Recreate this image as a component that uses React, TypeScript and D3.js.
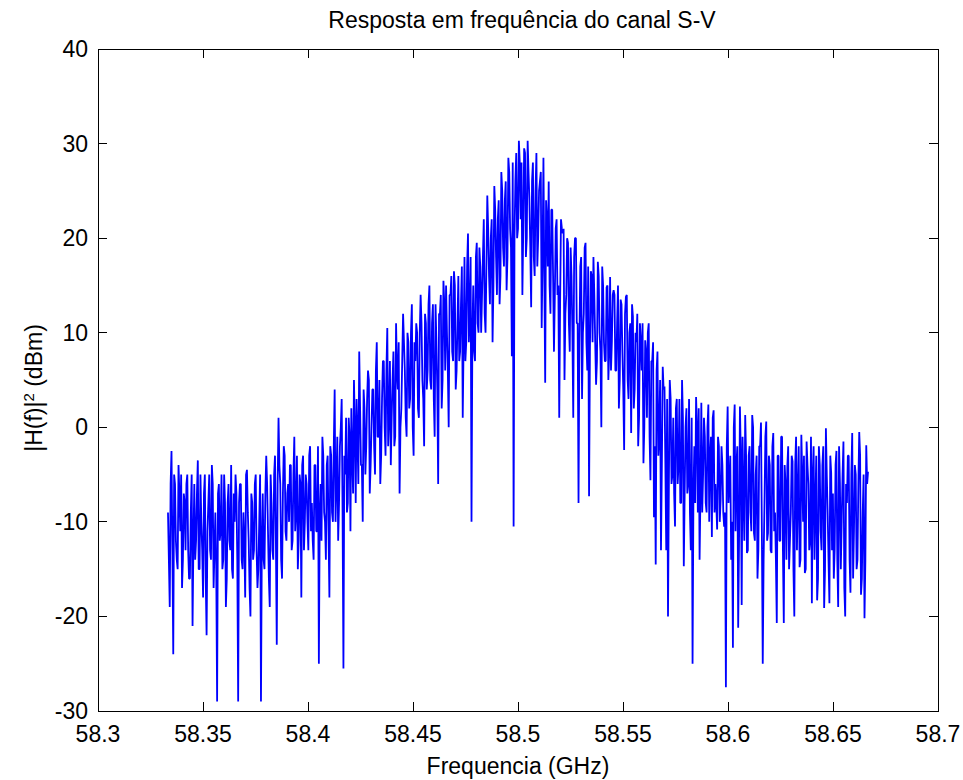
import React from "react";
import * as d3 from "d3";

// Frequency grid (GHz): evenly sampled band around 58.5 GHz
const fStart = 58.33333;
const fEnd = 58.66667;

// |H(f)|^2 in dBm, read left to right from the picture (samples at even steps)
const seg1 = [
  -9, -19, -2.5, -24, -6, -14, -4, -11, -17, -7,
  -13, -5, -16, -9, -21, -6, -12, -3.5, -15, -10,
  -18, -5, -22, -8, -13, -4, -17, -9, -29, -6,
  -11, -15, -5, -19, -8, -12, -4, -16, -10, -7,
  -29, -6, -14, -9, -18, -4.5, -12, -20, -8, -13,
  -5, -17, -10, -29, -7, -15, -3, -11, -19,
];
const seg2 = [
  -8, -14, -3, -23, 1, -6, -16, -2, -11, -7,
  -10, -4, -12, -1, -9, -15, -5, -18, -3, -10,
  -6, -13, -2, -8, -14, -4, -11, -25, -6, -1,
  -9, -14, -3, -18,
];
const seg3 = [
  -3, -10, 4, -6, -12, -2, 3, -25.5, -5, -9,
  1, -11, -3, 5, -8, -1, 8, -4, -10, 2,
  -2, 6, -7, 0, 4, -5, 9, -1, -6, 3,
  7, -3, 10.5, 1, -4, 5, -2, 11, 4, -7,
  2, 12, 6, -1, 9, 3, 13, -3, 7, 10,
  1, 14, 5, -2, 11, 6, 15,
];
const seg4 = [
  4, 13, -1, 9, -6, 12, 2, 15.5, 6, 10,
  0, 14, 8, 16.5, 4, 11, 7, 13, 1, 18,
  9, 20.5, 12, -10, 15, 7, 19.5, 10, 17,
];
const seg5 = [
  14, 22, 10, 24.5, 16, 20, 9, 25.5, 18, 22,
  13, 27, 19, 24, 14.5, 28.5, 21, 7.5, -10.5, 26,
  20, 30.3,
];
const seg6 = [
  22, 14, 29.5, 18, 30.3, 24, 12.7, 28, 16, 29,
  20, 26, 10.5, 28.5, 4.7, 22, 26, 12, 23, 8,
  21, 14, 1, 22,
];
const seg7 = [
  20.5, 5, 14, 19.5, 8, 16, 1, 20, 11, -8,
  17, 3, 12, 19.5, 6, -7.3, 16.5, 9, 14, 4.5,
  17.5, 10, 0, 15, 7, 14.8, 5, 15.9, 9,
];
const seg8 = [
  14.5, 6, 11, 2, 13.5, 8, -2.4, 13.8, 5, 10,
  -0.6, 11.7, 4, 9, -2, 11, 6, -3.8, 9.2, 1,
  11, -5.6, 7, -9.5, -14.5, 8, -1, -13, 6.4,
];
const seg9 = [
  4.3, -13, -20, 5, -6, 1, -10.5, 3, -4, -8,
  5, -14.7, 0, -7, 3, -13, -25, -2, 3.2, -9,
  -14, 2.6, -5, -1, -9, 2.4, -3, -11.6, 1.8, -6,
  -10.8, -2, -7.7, -4,
];
const seg10 = [
  -10.5, -27.5, 2.2, -6, -14, -23.3, 2.4, -4, -21.2, 2.2,
  -18.8, -7, 1.3, -13.3, -3, -9, 1.3, -11.2, -5, -16,
  -2, 0.5, -25, -8, 0.6, -11.2, -4, -13.3, -0.6, -9,
  -20.7, -3, -12, -1, -20.7, -6, -4.2, -15, -9, -3.6,
  -20, -1, -7, -14.8, -0.8, -10, -15.4, -1.5, -6, -12,
  -18.6, -2, -8, -18.3, -2, -11, -4, -19.1, -0.1, -9,
  -18.6, -4.8, -7, -13, -2.5, -19, -6, -10, -1.5, -20,
  -8, -3, -17.5, -0.6, -11, -5, -14, -0.5, -17.7, -9,
  -20.2, -1.9, -4.7,
];

// In-between samples (half a step after each sample above)
const seg1b = [
  -14, -6, -13, -5, -12, -15, -7, -5, -14, -8,
  -6, -13, -16, -5, -12, -14, -7, -15, -5, -13,
  -7, -16, -11, -5, -14, -6, -13, -15, -7, -12,
  -5, -14, -8, -16, -6, -13, -15, -7, -5, -14,
  -8, -6, -15, -12, -5, -9, -17, -7, -14, -6,
  -13, -15, -5, -12, -14, -7, -6, -16, -5,
];
const seg2b = [
  -13, -5, -12, -6, -4, -14, -7, -3, -12, -6,
  -4, -13, -5, -11, -3, -12, -6, -4, -13, -5,
  -10, -3, -11, -12, -4, -11, -2, -9, -12, -3,
  -10, -4, -11, -2,
];
const seg3b = [
  -9, -2, -10, -1, -8, 0, -9, -3, 1, -8,
  -1, 2, -7, 0, 3, -6, 2, -4, 4, -5,
  3, 5, -4, 4, -2, 6, -1, 5, -3, 7,
  0, 6, -2, 7, 1, 8, -1, 6, 9, 0,
  7, 9, 1, 10, 2, 10, 0, 9, 11, 2,
  10, 11, 3, 12, 4, 13, 5,
];
const seg4b = [
  11, 3, 13, 4, 12, 14, 5, 13, 15, 6,
  14, 16, 7, 15, 6, 16, 8, 17, 9, 7,
  17, 9, 18, 10, 8, 18, 11, 19, 10,
];
const seg5b = [
  18, 12, 17, 21, 13, 22, 15, 23, 14, 24,
  16, 25, 17, 26, 18, 27, 19, 28, 20, 29,
  21, 28,
];
const seg6b = [
  28, 21, 29, 20, 27, 19, 26, 18, 25, 17,
  25, 27, 18, 16, 24, 17, 15, 23, 16, 14,
  22, 15, 13, 21,
];
const seg7b = [
  21, 12, 20, 11, 19, 10, 18, 20, 11, 9,
  18, 10, 19, 9, 17, 8, 16, 18, 9, 7,
  16, 8, 17, 9, 7, 15, 8, 6, 14,
];
const seg8b = [
  14, 6, 15, 5, 13, 4, 12, 14, 3, 11,
  13, 2, 10, 12, 1, 9, 11, 0, 8, 10,
  -1, 7, 9, -2, 6, -3, 5, -4, 4,
];
const seg9b = [
  -4, 3, -6, 3, -5, -7, 2, -6, 3, -8,
  1, -7, 2, -6, -9, 1, -7, -8, 0, 2,
  -7, -9, 1, -8, 0, -10, -1, 1, -9, -8,
  -1, -10, -2, -9,
];
const seg10b = [
  -9, -2, -8, -3, -10, 0, -11, -2, -12, -3,
  -1, -12, -3, -13, -2, -11, 0, -12, -3, -13,
  -2, -11, -14, -1, -12, -3, -13, -2, -11, -14,
  -3, -12, -1, -13, -4, -14, -2, -12, -3, -15,
  -4, -13, -2, -14, -5, -3, -15, -4, -13, -1,
  -5, -14, -3, -16, -4, -13, -2, -15, -5, -14,
  -3, -13, -16, -4, -14, -2, -15, -5, -17, -6,
  -3, -14, -5, -16, -4, -15, -6, -3, -16, -5,
  -14, -6, -5,
];

const xTicks = [58.3, 58.35, 58.4, 58.45, 58.5, 58.55, 58.6, 58.65, 58.7];
const xTickLabels = ["58.3", "58.35", "58.4", "58.45", "58.5", "58.55", "58.6", "58.65", "58.7"];
const yTicks = [-30, -20, -10, 0, 10, 20, 30, 40];
const yTickLabels = ["-30", "-20", "-10", "0", "10", "20", "30", "40"];

const titleText = "Resposta em frequência do canal S-V";
const xLabelText = "Frequencia (GHz)";

export default function App() {
  const W = 963;
  const H = 780;
  const left = 98, right = 938, top = 49, bottom = 711;
  const A = [...seg1, ...seg2, ...seg3, ...seg4, ...seg5, ...seg6, ...seg7, ...seg8, ...seg9, ...seg10];
  const B = [...seg1b, ...seg2b, ...seg3b, ...seg4b, ...seg5b, ...seg6b, ...seg7b, ...seg8b, ...seg9b, ...seg10b];
  const values: number[] = [];
  A.forEach((v, i) => {
    values.push(v);
    if (i < A.length - 1) values.push(B[i]);
  });
  const n = values.length;
  const data = values.map((v, i) => ({ f: fStart + (i * (fEnd - fStart)) / (n - 1), v }));

  const x = d3.scaleLinear().domain([58.3, 58.7]).range([left, right]);
  const y = d3.scaleLinear().domain([-30, 40]).range([bottom, top]);
  const line = d3
    .line<{ f: number; v: number }>()
    .x((d) => x(d.f))
    .y((d) => y(d.v));

  const tickLen = 9;
  const font = "'Liberation Sans', Arial, Helvetica, sans-serif";
  const fs = 23;

  return (
    <svg
      width={W}
      height={H}
      style={{ position: "absolute", left: 0, top: 0, background: "#fff" }}
      fontFamily={font}
    >
      <rect x={0} y={0} width={W} height={H} fill="#fff" />
      <path d={line(data) || ""} fill="none" stroke="#0000ff" strokeWidth={1.8} strokeLinejoin="bevel" />
      <g shapeRendering="crispEdges" stroke="#000" strokeWidth={1}>
        <rect x={left} y={top} width={right - left} height={bottom - top} fill="none" />
        {xTicks.map((t) => (
          <g key={"xt" + t}>
            <line x1={x(t)} x2={x(t)} y1={bottom} y2={bottom - tickLen} />
            <line x1={x(t)} x2={x(t)} y1={top} y2={top + tickLen} />
          </g>
        ))}
        {yTicks.map((t) => (
          <g key={"yt" + t}>
            <line x1={left} x2={left + tickLen} y1={y(t)} y2={y(t)} />
            <line x1={right} x2={right - tickLen} y1={y(t)} y2={y(t)} />
          </g>
        ))}
      </g>
      <g fontSize={fs} fill="#000">
        {xTicks.map((t, i) => (
          <text key={"xl" + t} x={x(t)} y={bottom + 31} textAnchor="middle">
            {xTickLabels[i]}
          </text>
        ))}
        {yTicks.map((t, i) => (
          <text key={"yl" + t} x={left - 10} y={y(t) + 8} textAnchor="end">
            {yTickLabels[i]}
          </text>
        ))}
        <text x={(left + right) / 2} y={774} textAnchor="middle">
          {xLabelText}
        </text>
        <text x={(left + right) / 2 + 4} y={28} textAnchor="middle">
          {titleText}
        </text>
        <text transform={`translate(42, ${(top + bottom) / 2 + 8}) rotate(-90)`} textAnchor="middle">
          |H(f)|<tspan baselineShift="super" fontSize={15}>2</tspan> (dBm)
        </text>
      </g>
    </svg>
  );
}
